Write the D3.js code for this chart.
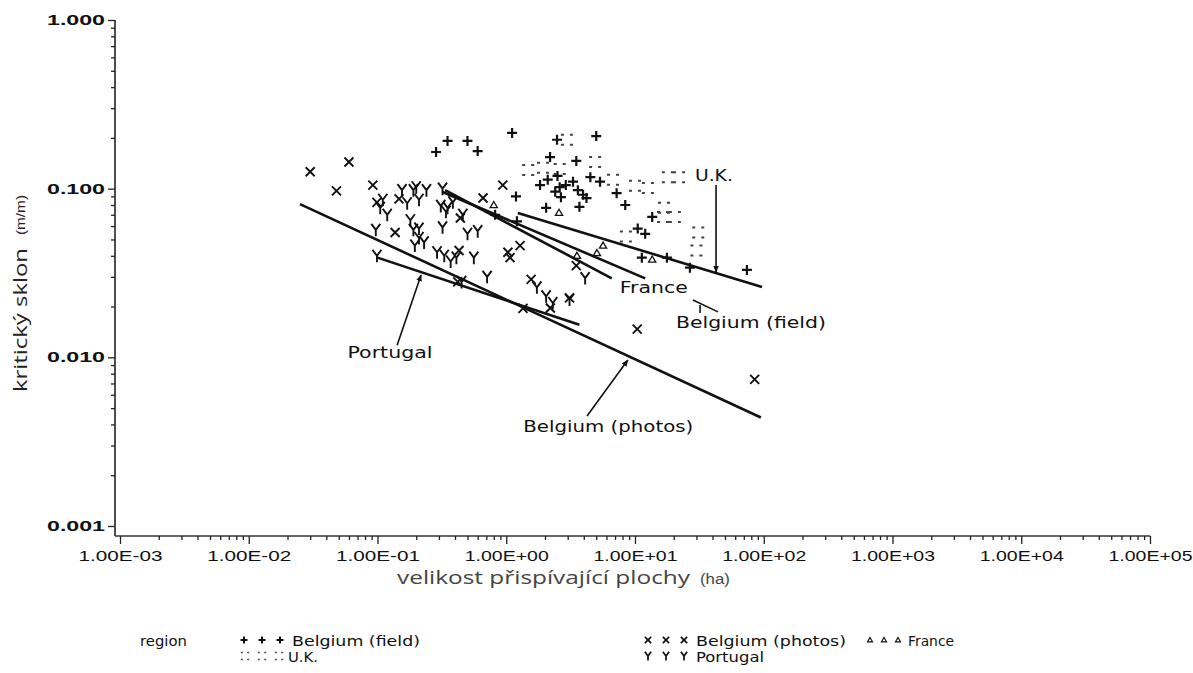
<!DOCTYPE html>
<html><head><meta charset="utf-8">
<script src="https://cdn.jsdelivr.net/npm/d3@7"></script>
<style>body{margin:0;background:#fff}svg{display:block}</style>
</head><body>
<svg id="chart" width="1193" height="673"></svg>
<script>
// ---------- data ----------
const yTickValues = [1, 0.1, 0.01, 0.001];
const yTickLabels = ["1.000", "0.100", "0.010", "0.001"];
const xTickValues = [1e-3, 1e-2, 1e-1, 1e0, 1e1, 1e2, 1e3, 1e4, 1e5];
const xTickLabels = ["1.00E-03", "1.00E-02", "1.00E-01", "1.00E+00", "1.00E+01", "1.00E+02", "1.00E+03", "1.00E+04", "1.00E+05"];
const regionNames = ["Belgium (field)", "Belgium (photos)", "France", "U.K.", "Portugal"];

// [contributing area (ha), critical slope (m/m)]
const belgiumField = [[0.285,0.165],[0.35,0.192],[0.50,0.192],[0.60,0.167],[1.11,0.214],[2.48,0.195],[5.0,0.205],[2.19,0.154],[3.5,0.146],[4.5,0.117],[1.19,0.090],[1.83,0.105],[2.1,0.113],[2.4,0.096],[2.6,0.102],[2.9,0.105],[3.3,0.110],[5.35,0.110],[7.2,0.094],[2.04,0.077],[3.7,0.078],[8.4,0.080],[13.6,0.068],[10.5,0.058],[12,0.054],[11.3,0.039],[17.7,0.039],[26.7,0.034],[74,0.033],[2.5,0.119],[3.95,0.092],[2.66,0.089],[0.82,0.070],[1.21,0.064],[3.6,0.098],[4.2,0.088]];
const belgiumPhotos = [[0.030,0.126],[0.048,0.097],[0.060,0.144],[0.092,0.105],[0.099,0.083],[0.147,0.087],[0.137,0.055],[0.43,0.043],[0.66,0.088],[0.94,0.105],[1.03,0.042],[1.28,0.046],[1.07,0.039],[1.56,0.029],[2.2,0.0196],[10.4,0.0147],[85,0.0074],[3.5,0.035],[0.44,0.067],[3.1,0.0225],[0.42,0.028],[1.35,0.0195]];
const france = [[0.80,0.080],[2.57,0.072],[3.54,0.040],[5.65,0.046],[5.06,0.0415],[13.6,0.038]];
const uk = [[2.96,0.195],[1.48,0.129],[2.6,0.131],[4.9,0.144],[6.75,0.113],[10,0.104],[12.6,0.101],[18,0.117],[22,0.117],[16.8,0.077],[16.5,0.068],[20.4,0.068],[31,0.055],[30,0.043],[8.5,0.052],[1.93,0.133]];
const portugal = [[0.097,0.057],[0.099,0.040],[0.11,0.086],[0.119,0.070],[0.105,0.077],[0.155,0.098],[0.19,0.098],[0.20,0.102],[0.21,0.086],[0.24,0.098],[0.32,0.100],[0.17,0.082],[0.18,0.065],[0.19,0.057],[0.21,0.058],[0.21,0.051],[0.23,0.048],[0.195,0.046],[0.31,0.079],[0.34,0.073],[0.32,0.059],[0.29,0.042],[0.37,0.037],[0.46,0.070],[0.50,0.054],[0.60,0.056],[0.56,0.039],[0.71,0.030],[1.73,0.026],[2.04,0.023],[2.3,0.021],[3.1,0.022],[4.1,0.0295],[0.33,0.040],[0.41,0.039],[0.385,0.083],[0.35,0.077],[0.45,0.028]];

// regression lines (end points)
const lineBelgiumField = [[0.32,0.0956],[12,0.0294]];
const lineFrance = [[0.335,0.098],[6.6,0.0294]];
const lineUK = [[1.23,0.0718],[97,0.0261]];
const lineBelgiumPhotos = [[0.025,0.081],[95,0.0044]];
const linePortugal = [[0.1,0.039],[3.7,0.0156]];

// ---------- drawing ----------
const svg = d3.select("#chart");
svg.append("rect").attr("width",1193).attr("height",673).attr("fill","#fff");

const x = d3.scaleLog().domain([1e-3, 1e5]).range([120, 1150]);
const y = d3.scaleLog().domain([1, 0.001]).range([20, 526]);
const axisY0 = 536, axisX0 = 115;
const ink = "#111";
const tickFont = "'Liberation Sans', 'DejaVu Sans', sans-serif";

svg.append("defs").append("marker")
  .attr("id","ah").attr("viewBox","0 0 10 10").attr("refX",9).attr("refY",5)
  .attr("markerWidth",7).attr("markerHeight",7).attr("orient","auto-start-reverse")
  .attr("markerUnits","userSpaceOnUse")
  .append("path").attr("d","M0,1L10,5L0,9Z").attr("fill",ink);

// axis lines
svg.append("line").attr("x1",axisX0).attr("x2",axisX0).attr("y1",y(1)).attr("y2",axisY0)
  .attr("stroke","#222").attr("stroke-width",1.6);
svg.append("line").attr("x1",axisX0).attr("x2",x(1e5)).attr("y1",axisY0).attr("y2",axisY0)
  .attr("stroke","#333").attr("stroke-width",1.6);

// y axis ticks
const yMinor = y.ticks().filter(v => !yTickValues.some(t => Math.abs(t - v) / t < 1e-6));
const gy = svg.append("g").attr("transform",`translate(${axisX0},0)`);
gy.call(d3.axisLeft(y).tickValues(yMinor).tickFormat("").tickSize(4));
const gyMaj = svg.append("g").attr("transform",`translate(${axisX0},0)`);
gyMaj.call(d3.axisLeft(y).tickValues(yTickValues).tickFormat((d,i)=>yTickLabels[i]).tickSize(7).tickPadding(3));
[gy, gyMaj].forEach(g => { g.select(".domain").remove(); g.selectAll("line").attr("stroke","#222").attr("stroke-width",1.3); });
gyMaj.selectAll("text").attr("font-family",tickFont).attr("font-size",14).attr("font-weight","bold")
  .attr("fill","#111").attr("textLength",58).attr("lengthAdjust","spacingAndGlyphs");

// x axis ticks
const xMinor = x.ticks().filter(v => !xTickValues.some(t => Math.abs(t - v) / t < 1e-6));
const gx = svg.append("g").attr("transform",`translate(0,${axisY0})`);
gx.call(d3.axisBottom(x).tickValues(xMinor).tickFormat("").tickSize(4));
const gxMaj = svg.append("g").attr("transform",`translate(0,${axisY0})`);
gxMaj.call(d3.axisBottom(x).tickValues(xTickValues).tickFormat((d,i)=>xTickLabels[i]).tickSize(8).tickPadding(7));
[gx, gxMaj].forEach(g => { g.select(".domain").remove(); g.selectAll("line").attr("stroke","#222").attr("stroke-width",1.3); });
gxMaj.selectAll("text").attr("font-family",tickFont).attr("font-size",14)
  .attr("fill","#111").attr("textLength",84).attr("lengthAdjust","spacingAndGlyphs");

// axis titles
svg.append("text").attr("transform",`translate(27,320) rotate(-90)`)
  .attr("text-anchor","middle").attr("font-family","'Open Sans', sans-serif").attr("font-size",19).attr("fill","#2a2020")
  .attr("textLength",144).attr("lengthAdjust","spacingAndGlyphs").text("kritický sklon");
svg.append("text").attr("transform",`translate(25,215) rotate(-90)`)
  .attr("text-anchor","middle").attr("font-family",tickFont).attr("font-size",13).attr("fill","#2a2020")
  .attr("textLength",40).attr("lengthAdjust","spacingAndGlyphs").text("(m/m)");
svg.append("text").attr("x",397).attr("y",584)
  .attr("font-family","'Open Sans', sans-serif").attr("font-size",19).attr("fill","#444")
  .attr("textLength",293).attr("lengthAdjust","spacingAndGlyphs").text("velikost přispívající plochy");
svg.append("text").attr("x",700).attr("y",584)
  .attr("font-family",tickFont).attr("font-size",14).attr("fill","#444")
  .attr("textLength",30).attr("lengthAdjust","spacingAndGlyphs").text("(ha)");

// symbols
const sym = {
  plus: "M-5,0H5M0,-5V5",
  cross: "M-4.5,-4.5L4.5,4.5M-4.5,4.5L4.5,-4.5",
  tri: "M0,-3.5L3.6,2.6H-3.6Z",
  dots: "M-6,-5h3M3,-5h3M-6,5h3M3,5h3",
  ypsilon: "M-4.5,-6L0,0L4.5,-6M0,0V6.5"
};
const series = [
  {data: uk, d: sym.dots, sw: 2, col: "#444"},
  {data: france, d: sym.tri, sw: 1.3, col: ink},
  {data: belgiumPhotos, d: sym.cross, sw: 1.9, col: ink},
  {data: portugal, d: sym.ypsilon, sw: 1.9, col: ink},
  {data: belgiumField, d: sym.plus, sw: 2.2, col: ink}
];
series.forEach(s => {
  svg.append("g").selectAll("path").data(s.data).join("path")
    .attr("transform", p => `translate(${x(p[0])},${y(p[1])})`)
    .attr("d", s.d).attr("fill","none").attr("stroke",s.col).attr("stroke-width",s.sw);
});

// regression lines
const lineGen = d3.line().x(p => x(p[0])).y(p => y(p[1]));
[lineBelgiumField, lineFrance, lineUK, lineBelgiumPhotos, linePortugal].forEach(l => {
  svg.append("path").attr("d", lineGen(l)).attr("fill","none").attr("stroke",ink).attr("stroke-width",2.6);
});

// annotations
const annFont = "'DejaVu Sans', sans-serif";
function label(txt, px, py, anchor, len) {
  svg.append("text").attr("x",x(px)).attr("y",y(py)).attr("dy","0.35em").attr("text-anchor",anchor)
    .attr("font-family",annFont).attr("font-size",15).attr("fill",ink)
    .attr("textLength",len).attr("lengthAdjust","spacingAndGlyphs").text(txt);
}
function arrow(a, b, head) {
  const l = svg.append("line").attr("x1",x(a[0])).attr("y1",y(a[1])).attr("x2",x(b[0])).attr("y2",y(b[1]))
    .attr("stroke",ink).attr("stroke-width",1.6);
  if (head) l.attr("marker-end","url(#ah)");
}
label("U.K.", 41, 0.12, "middle", 38);
arrow([42.6,0.105],[42.6,0.032], true);
label("France", 14, 0.0258, "middle", 68);
label("Belgium (field)", 20.8, 0.016, "start", 150);
arrow([28.2,0.0219],[44.1,0.0186], false);
arrow([32,0.0204],[32,0.0183], false);
label("Portugal", 0.125, 0.0106, "middle", 85);
arrow([0.142,0.0118],[0.218,0.0308], true);
label("Belgium (photos)", 6.2, 0.00387, "middle", 170);
arrow([4.24,0.00449],[8.8,0.00965], true);

// legend
const lg = svg.append("g");
const legFont = "'DejaVu Sans', sans-serif";
lg.append("text").attr("x",140).attr("y",641).attr("dy","0.35em").attr("font-family",legFont)
  .attr("font-size",14).attr("fill",ink).attr("textLength",47).attr("lengthAdjust","spacingAndGlyphs").text("region");
const legendItems = [
  {name: regionNames[0], d: sym.plus, sw: 2, col: ink, sx: 244, gap: 18, tx: 292, row: 0, len: 128},
  {name: regionNames[1], d: sym.cross, sw: 1.7, col: ink, sx: 648, gap: 18, tx: 696, row: 0, len: 150},
  {name: regionNames[2], d: sym.tri, sw: 1.2, col: ink, sx: 870, gap: 14, tx: 908, row: 0, len: 46},
  {name: regionNames[3], d: sym.dots, sw: 1.6, col: "#555", sx: 245, gap: 17, tx: 288, row: 1, len: 30},
  {name: regionNames[4], d: sym.ypsilon, sw: 1.7, col: ink, sx: 648, gap: 18, tx: 696, row: 1, len: 68}
];
legendItems.forEach(it => {
  const cy = it.row === 0 ? 640 : 656;
  for (let k = 0; k < 3; k++) {
    lg.append("path").attr("transform",`translate(${it.sx + k*it.gap},${cy}) scale(0.7)`)
      .attr("d",it.d).attr("fill","none").attr("stroke",it.col).attr("stroke-width",it.sw/0.7);
  }
  lg.append("text").attr("x",it.tx).attr("y",cy+1).attr("dy","0.35em").attr("font-family",legFont)
    .attr("font-size",14).attr("fill",ink).attr("textLength",it.len).attr("lengthAdjust","spacingAndGlyphs").text(it.name);
});
</script>
</body></html>
